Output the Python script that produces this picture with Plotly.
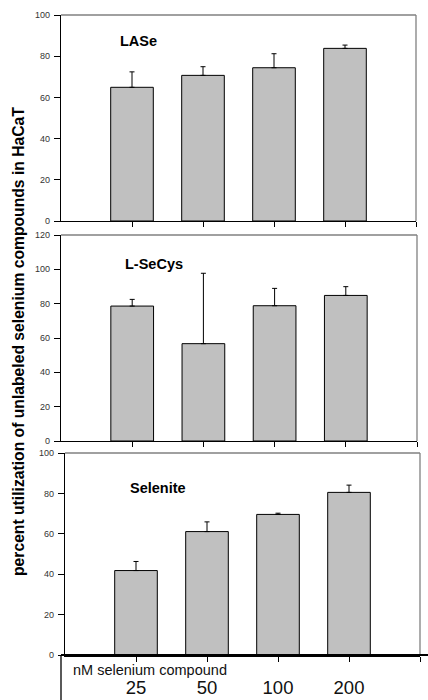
import plotly.graph_objects as go

W, H = 428, 700

categories = ["25", "50", "100", "200"]
cat_pos = [1, 2, 3, 4]

lase_vals = [64.9, 70.7, 74.4, 83.8]
lase_err = [7.5, 4.2, 6.8, 1.6]

secys_vals = [78.6, 56.7, 78.8, 84.8]
secys_err = [3.9, 41.0, 10.1, 5.1]

selenite_vals = [41.8, 61.1, 69.6, 80.5]
selenite_err = [4.5, 4.8, 0.6, 3.6]

panel_names = ["LASe", "L-SeCys", "Selenite"]
y_max = [100, 120, 100]

y_title = "percent utilization of unlabeled selenium compounds in HaCaT"
x_title = "nM selenium compound"

FONT = "Liberation Sans, Arial, sans-serif"

def px_x(p):
    return p / W

def px_y(p):
    return 1 - p / H

# panel geometry in pixels: (left, right, top, bottom)
panels = [(61, 416, 15, 221), (61, 417, 235, 441), (65, 420, 453, 655)]
label_pos = [(118, 41), (123, 264), (128, 488)]

fig = go.Figure()
series = [(lase_vals, lase_err), (secys_vals, secys_err), (selenite_vals, selenite_err)]

shapes = []
annotations = []
for i, ((vals, err), (l, r, t, b)) in enumerate(zip(series, panels)):
    n = i + 1
    xa = "x" if n == 1 else f"x{n}"
    ya = "y" if n == 1 else f"y{n}"
    fig.add_trace(go.Bar(
        x=cat_pos, y=vals, width=0.6,
        marker=dict(color="#c0c0c0", line=dict(color="#000000", width=1)),
        error_y=dict(type="data", symmetric=False, array=err, arrayminus=[0] * len(err),
                     color="#000000", thickness=1, width=2.5),
        xaxis=xa, yaxis=ya, showlegend=False, hoverinfo="skip",
    ))
    xkey = "xaxis" if n == 1 else f"xaxis{n}"
    ykey = "yaxis" if n == 1 else f"yaxis{n}"
    last = (n == 3)
    fig.layout[xkey] = dict(
        domain=[px_x(l), px_x(r)], range=[0, 5], anchor=ya, automargin=False,
        tickvals=cat_pos + [5],
        ticktext=(categories + [""]) if last else [""] * 5,
        showticklabels=last,
        ticks="outside", ticklen=5, tickcolor="#000000", tickwidth=1,
        showline=True, linecolor="#000000", linewidth=2 if last else 1.3,
        showgrid=False, zeroline=False, fixedrange=True,
        tickfont=dict(family=FONT, size=18.5, color="#111111"),
        ticklabelstandoff=10 if last else 0,
    )
    fig.layout[ykey] = dict(
        domain=[px_y(b), px_y(t)], range=[0, y_max[i]], anchor=xa, automargin=False,
        tickvals=list(range(0, y_max[i] + 1, 20)),
        ticks="outside", ticklen=6, tickcolor="#000000", tickwidth=1,
        showline=True, linecolor="#000000", linewidth=1.3,
        showgrid=False, zeroline=False, fixedrange=True,
        tickfont=dict(family=FONT, size=9, color="#333333"),
        ticklabelstandoff=2,
    )
    # gray top and right frame
    shapes.append(dict(type="line", xref="paper", yref="paper",
                       x0=px_x(l), x1=px_x(r), y0=px_y(t), y1=px_y(t),
                       line=dict(color="#808080", width=1.3)))
    shapes.append(dict(type="line", xref="paper", yref="paper",
                       x0=px_x(r), x1=px_x(r), y0=px_y(t), y1=px_y(b),
                       line=dict(color="#808080", width=1.3)))
    lx, ly = label_pos[i]
    annotations.append(dict(text=f"<b>{panel_names[i]}</b>", xref="paper", yref="paper",
                            x=px_x(lx), y=px_y(ly), xanchor="left", yanchor="middle",
                            showarrow=False, font=dict(family=FONT, size=14.5, color="#000000")))

# bottom table-like lines
shapes.append(dict(type="line", xref="paper", yref="paper",
                   x0=px_x(61), x1=1, y0=px_y(655), y1=px_y(655),
                   line=dict(color="#000000", width=2)))
shapes.append(dict(type="line", xref="paper", yref="paper",
                   x0=px_x(61), x1=px_x(61), y0=px_y(655), y1=0,
                   line=dict(color="#000000", width=1.3)))

annotations.append(dict(text=x_title, xref="paper", yref="paper",
                        x=px_x(71), y=px_y(670), xanchor="left", yanchor="middle",
                        showarrow=False, font=dict(family=FONT, size=14.5, color="#111111")))
annotations.append(dict(text=f"<b>{y_title}</b>", xref="paper", yref="paper",
                        x=px_x(18), y=px_y(342), xanchor="center", yanchor="middle",
                        textangle=-90, showarrow=False,
                        font=dict(family=FONT, size=15.7, color="#000000")))

fig.update_layout(
    width=W, height=H, margin=dict(l=0, r=0, t=0, b=0, autoexpand=False),
    paper_bgcolor="#ffffff", plot_bgcolor="#ffffff",
    shapes=shapes, annotations=annotations, bargap=0.4,
)

fig.write_html("out.html", config={"displayModeBar": False},
               post_script="document.body.style.margin='0';document.body.style.overflow='hidden';")
